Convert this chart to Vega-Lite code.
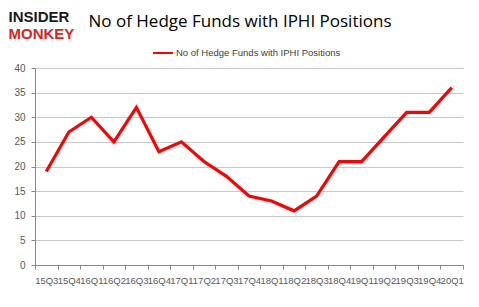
{
  "$schema": "https://vega.github.io/schema/vega-lite/v6.json",
  "width": 428,
  "height": 197,
  "autosize": "none",
  "padding": {"left": 35, "top": 68, "right": 16, "bottom": 42},
  "background": "white",
  "title": {
    "text": "No of Hedge Funds with IPHI Positions",
    "font": "Open Sans",
    "fontSize": 17,
    "fontWeight": "normal",
    "color": "#000000",
    "anchor": "middle",
    "dx": -9,
    "offset": 0,
    "dy": 22
  },
  "data": {
    "values": [
      {"q": "15Q3", "v": 19, "s": "No of Hedge Funds with IPHI Positions"},
      {"q": "15Q4", "v": 27, "s": "No of Hedge Funds with IPHI Positions"},
      {"q": "16Q1", "v": 30, "s": "No of Hedge Funds with IPHI Positions"},
      {"q": "16Q2", "v": 25, "s": "No of Hedge Funds with IPHI Positions"},
      {"q": "16Q3", "v": 32, "s": "No of Hedge Funds with IPHI Positions"},
      {"q": "16Q4", "v": 23, "s": "No of Hedge Funds with IPHI Positions"},
      {"q": "17Q1", "v": 25, "s": "No of Hedge Funds with IPHI Positions"},
      {"q": "17Q2", "v": 21, "s": "No of Hedge Funds with IPHI Positions"},
      {"q": "17Q3", "v": 18, "s": "No of Hedge Funds with IPHI Positions"},
      {"q": "17Q4", "v": 14, "s": "No of Hedge Funds with IPHI Positions"},
      {"q": "18Q1", "v": 13, "s": "No of Hedge Funds with IPHI Positions"},
      {"q": "18Q2", "v": 11, "s": "No of Hedge Funds with IPHI Positions"},
      {"q": "18Q3", "v": 14, "s": "No of Hedge Funds with IPHI Positions"},
      {"q": "18Q4", "v": 21, "s": "No of Hedge Funds with IPHI Positions"},
      {"q": "19Q1", "v": 21, "s": "No of Hedge Funds with IPHI Positions"},
      {"q": "19Q2", "v": 26, "s": "No of Hedge Funds with IPHI Positions"},
      {"q": "19Q3", "v": 31, "s": "No of Hedge Funds with IPHI Positions"},
      {"q": "19Q4", "v": 31, "s": "No of Hedge Funds with IPHI Positions"},
      {"q": "20Q1", "v": 36, "s": "No of Hedge Funds with IPHI Positions"}
    ]
  },
  "mark": {"type": "line", "strokeWidth": 3.2},
  "encoding": {
    "x": {
      "field": "q",
      "type": "ordinal",
      "sort": null,
      "scale": {"type": "band", "paddingInner": 0, "paddingOuter": 0},
      "axis": {
        "title": "MONKEY",
        "titleFont": "Liberation Sans",
        "titleFontSize": 15,
        "titleFontWeight": "bold",
        "titleColor": "#d7261e",
        "titleAnchor": "start",
        "titleAlign": "left",
        "titleBaseline": "alphabetic",
        "titleX": -27,
        "titleY": -227,
        "labelAngle": 0,
        "labelFont": "Liberation Sans",
        "labelFontSize": 9.5,
        "labelColor": "#595959",
        "labelPadding": 6,
        "labelOverlap": false,
        "tickBand": "extent",
        "tickSize": 4,
        "tickColor": "#888888",
        "domainColor": "#888888",
        "grid": false
      }
    },
    "y": {
      "field": "v",
      "type": "quantitative",
      "scale": {"domain": [0, 40]},
      "axis": {
        "title": "INSIDER",
        "titleFont": "Liberation Sans",
        "titleFontSize": 15,
        "titleFontWeight": "bold",
        "titleColor": "#1a1a1a",
        "titleAngle": 0,
        "titleAlign": "left",
        "titleBaseline": "alphabetic",
        "titleX": -27,
        "titleY": -47,
        "values": [0, 5, 10, 15, 20, 25, 30, 35, 40],
        "labelFont": "Liberation Sans",
        "labelFontSize": 10,
        "labelColor": "#595959",
        "labelPadding": 6,
        "tickSize": 4,
        "tickColor": "#888888",
        "domainColor": "#888888",
        "gridColor": "#c8c8c8",
        "gridWidth": 1
      }
    },
    "color": {
      "field": "s",
      "type": "nominal",
      "scale": {"range": ["#ff0000"]},
      "legend": {
        "title": null,
        "orient": "none",
        "legendX": 117,
        "legendY": -26,
        "symbolType": "stroke",
        "symbolSize": 400,
        "symbolStrokeWidth": 2,
        "labelFont": "Liberation Sans",
        "labelFontSize": 9.5,
        "labelColor": "#404040",
        "labelOffset": 2,
        "labelLimit": 400
      }
    }
  },
  "config": {
    "view": {"stroke": null}
  }
}
